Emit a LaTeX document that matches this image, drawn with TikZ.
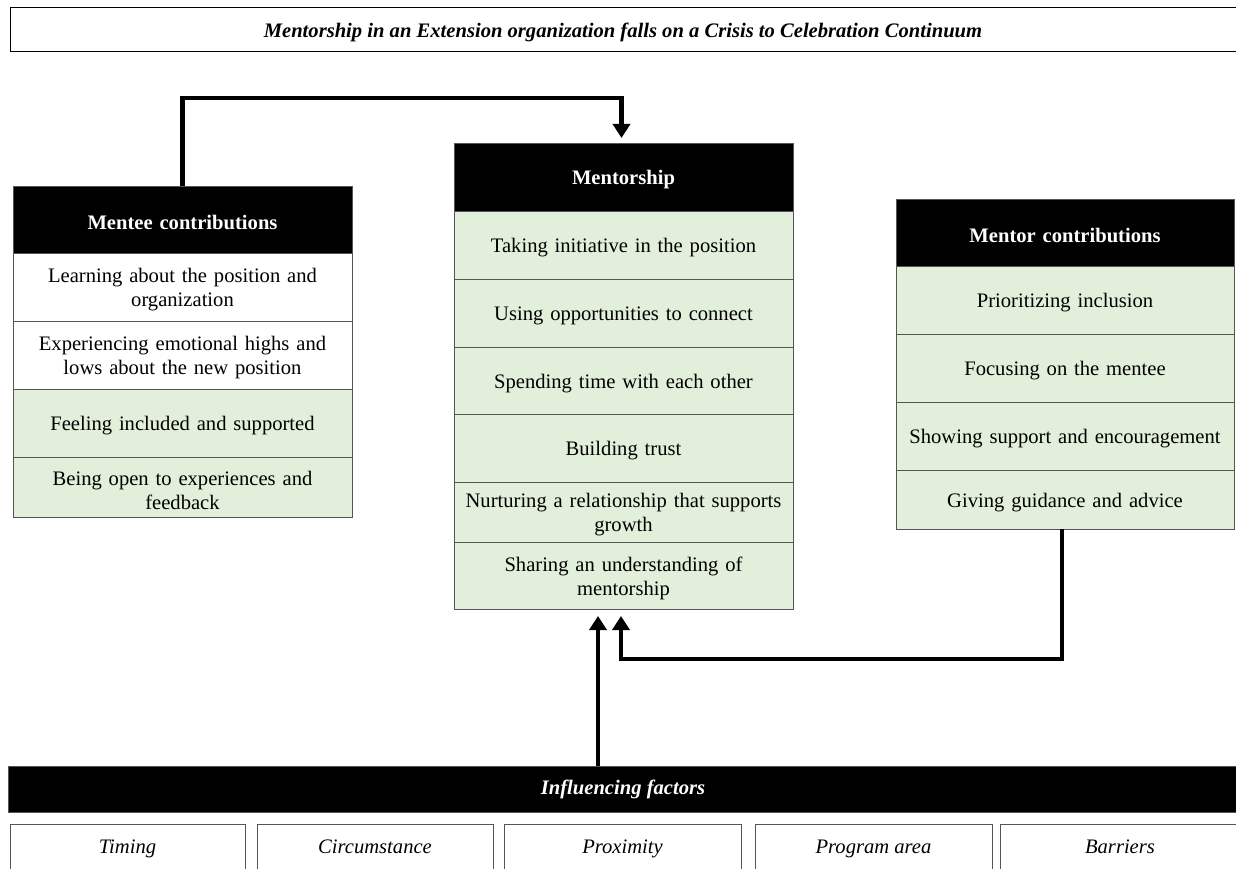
\documentclass[tikz,border=0pt]{standalone}
\usepackage{fontspec}
\setmainfont{Liberation Serif}
\usetikzlibrary{arrows.meta,calc}
\definecolor{lgreen}{HTML}{E2EFDA}
\definecolor{edge}{HTML}{555555}
\tikzset{
  cell/.style={draw=edge, line width=0.8pt, anchor=north west, inner sep=0pt, outer sep=0pt},
  hdr/.style={cell, fill=black},
  grn/.style={cell, fill=lgreen},
  wht/.style={cell, fill=white},
  celltext/.style={align=center, inner sep=0pt, font=\fontsize{20.6}{24}\selectfont},
  hdrtext/.style={celltext, text=white, font=\fontsize{20.6}{24}\selectfont\bfseries},
  conn/.style={line width=4.5pt, -{Triangle[width=17pt,length=14pt]}},
  factor/.style={draw=edge, line width=0.8pt, anchor=north west, outer sep=0pt,
    text height=14pt, text depth=4pt,
    font=\fontsize{20.6}{23}\selectfont\itshape}
}
% #1 box style, #2 name, #3 position, #4 width, #5 height, #6 text
\newcommand{\cellbox}[6]{%
  \node[#1, minimum width=#4pt, minimum height=#5pt] (#2) at (#3) {};
  \node[celltext, text width=#4pt-6pt, yshift=-3pt] (#2-t) at (#2.center) {#6};}
\newcommand{\hdrbox}[6]{%
  \node[#1, minimum width=#4pt, minimum height=#5pt] (#2) at (#3) {};
  \node[hdrtext, text width=#4pt-6pt, yshift=-3pt] (#2-t) at (#2.center) {#6};}
\begin{document}
\begin{tikzpicture}[x=1pt,y=-1pt]
\useasboundingbox (0,0) rectangle (1236,869);
% title
\node[draw=black, line width=1pt, anchor=north west, minimum width=1230pt, minimum height=44pt, outer sep=0pt] (title) at (10,8) {};
\node[font=\fontsize{20.6}{23}\selectfont\bfseries\itshape, yshift=-2pt] (title-t) at (title.center -| 623,0)
  {Mentorship in an Extension organization falls on a Crisis to Celebration Continuum};
% mentee
\hdrbox{hdr}{eh}{13,186}{339}{67}{Mentee contributions}
\cellbox{wht}{e1}{13,253}{339}{68}{Learning about the position and\\organization}
\cellbox{wht}{e2}{13,321}{339}{68}{Experiencing emotional highs and\\lows about the new position}
\cellbox{grn}{e3}{13,389}{339}{68}{Feeling included and supported}
\cellbox{grn}{e4}{13,457}{339}{60}{Being open to experiences and\\feedback}
% mentorship
\hdrbox{hdr}{mh}{454,143}{339}{68}{Mentorship}
\cellbox{grn}{m1}{454,211}{339}{68}{Taking initiative in the position}
\cellbox{grn}{m2}{454,279}{339}{68}{Using opportunities to connect}
\cellbox{grn}{m3}{454,347}{339}{67}{Spending time with each other}
\cellbox{grn}{m4}{454,414}{339}{68}{Building trust}
\cellbox{grn}{m5}{454,482}{339}{60}{Nurturing a relationship that supports\\growth}
\cellbox{grn}{m6}{454,542}{339}{67}{Sharing an understanding of\\mentorship}
% mentor
\hdrbox{hdr}{rh}{896,199}{338}{67}{Mentor contributions}
\cellbox{grn}{r1}{896,266}{338}{68}{Prioritizing inclusion}
\cellbox{grn}{r2}{896,334}{338}{68}{Focusing on the mentee}
\cellbox{grn}{r3}{896,402}{338}{68}{Showing support and encouragement}
\cellbox{grn}{r4}{896,470}{338}{59}{Giving guidance and advice}
% influencing factors
\node[draw=edge, fill=black, text=white, anchor=north west, minimum width=1230pt, minimum height=46pt, outer sep=0pt,
  text height=14pt, text depth=4pt,
  font=\fontsize{20.6}{23}\selectfont\bfseries\itshape] (inf) at (8,766) {Influencing factors};
\node[factor, minimum width=235pt, minimum height=48pt] (f1) at (10,824) {Timing};
\node[factor, minimum width=236pt, minimum height=48pt] (f2) at (257,824) {Circumstance};
\node[factor, minimum width=237pt, minimum height=48pt] (f3) at (504,824) {Proximity};
\node[factor, minimum width=237pt, minimum height=48pt] (f4) at (755,824) {Program area};
\node[factor, minimum width=240pt, minimum height=48pt] (f5) at (1000,824) {Barriers};
% connectors
\draw[conn, shorten >=5pt] (eh.north) |- ($(mh.north)+(-2,-45)$) -- ($(mh.north)+(-2,0)$);
\draw[conn, shorten >=7pt] (inf.north -| 598,0) -- (m6.south -| 598,0);
\draw[conn, shorten >=7pt] (r4.south -| 1062,0) |- (621,659) -- (m6.south -| 621,0);
\end{tikzpicture}
\end{document}
